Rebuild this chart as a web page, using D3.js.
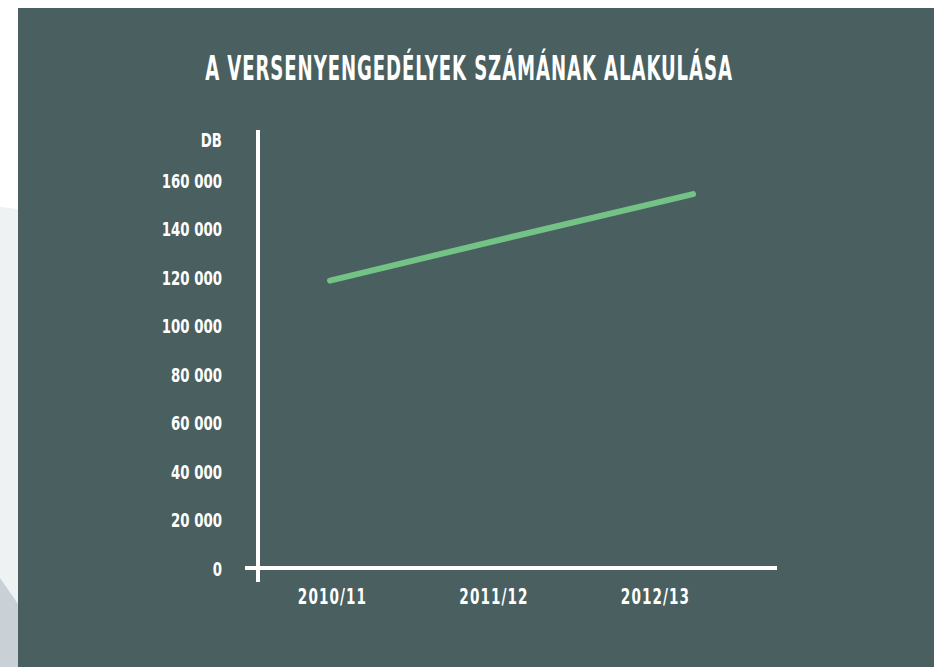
<!DOCTYPE html>
<html>
<head>
<meta charset="utf-8">
<script src="https://cdn.jsdelivr.net/npm/d3@7"></script>
<style>
  html, body { margin: 0; padding: 0; background: #ffffff; }
  svg { display: block; }
  .label { fill: #ffffff; font-family: "DejaVu Sans Condensed", "DejaVu Sans", sans-serif; font-weight: bold; }
</style>
</head>
<body>
<div id="chart"></div>
<script>
// chart data
const title = 'A VERSENYENGEDÉLYEK SZÁMÁNAK ALAKULÁSA';
const unitLabel = 'DB';
const seasons = ['2010/11', '2011/12', '2012/13'];
const licences = [118500, 136500, 154200];
const yTicks = [0, 20000, 40000, 60000, 80000, 100000, 120000, 140000, 160000];

const W = 934, H = 667;
const cfg = {
    'panel': {'x': 18, 'y': 8},
    'bg': '#4a5f5f',
    'lineColor': '#73c386',
    'yRange': [568, 180],
    'xLabelRange': [332, 655],
    'lineRange': [330, 693],
    'axisX': 258,
    'labelX': 222,
    'squeeze': 'scale(0.74,1)'  // fake a condensed face
};

const svg = d3.select('#chart').append('svg')
    .attr('width', W)
    .attr('height', H)
    .attr('viewBox', '0 0 ' + W + ' ' + H);

// decorative strip on the left
svg.append('path')
    .attr('d', 'M0,207 L' + cfg.panel.x + ',209 L' + cfg.panel.x + ',' + H + ' L0,' + H + ' Z')
    .attr('fill', '#eef2f3');
svg.append('path')
    .attr('d', 'M0,578 L' + cfg.panel.x + ',604 L' + cfg.panel.x + ',' + H + ' L0,' + H + ' Z')
    .attr('fill', '#c9d1d6');

svg.append('rect')
    .attr('x', cfg.panel.x)
    .attr('y', cfg.panel.y)
    .attr('width', W - cfg.panel.x)
    .attr('height', H - cfg.panel.y)
    .attr('fill', cfg.bg);

const yScale = d3.scaleLinear().domain([0, 160000]).range(cfg.yRange);
const xScale = d3.scalePoint().domain(seasons).range(cfg.xLabelRange);
const xLine = d3.scaleLinear().domain([0, seasons.length - 1]).range(cfg.lineRange);

const fmt = function(v) { return d3.format(',')(v).replace(/,/g, ' '); };

// TITLE
svg.append('g')
    .attr('transform', 'translate(469,80) scale(0.61,1)')
  .append('text')
    .attr('class', 'label title')
    .attr('text-anchor', 'middle')
    .attr('font-size', 33)
    .attr('letter-spacing', 1.5)
    .text(title);

// Y AXIS labels
const yAxis = svg.append('g')
    .attr('class', 'axis axis--y')
    .attr('transform', 'translate(' + cfg.labelX + ',0)')
    .call(d3.axisLeft(yScale).tickValues(yTicks).tickSize(0).tickPadding(0).tickFormat(fmt));
yAxis.select('.domain').remove();
yAxis.selectAll('text')
    .attr('class', 'label')
    .attr('font-size', 20)
    .attr('dy', '0.36em')
    .attr('transform', cfg.squeeze)
    .attr('fill', null);

svg.append('g')
    .attr('transform', 'translate(' + cfg.labelX + ',140) ' + cfg.squeeze)
  .append('text')
    .attr('class', 'label')
    .attr('dy', '0.36em')
    .attr('text-anchor', 'end')
    .attr('font-size', 20)
    .text(unitLabel);

// X AXIS labels
const xAxis = svg.append('g')
    .attr('class', 'axis axis--x')
    .attr('transform', 'translate(0,' + yScale(0) + ')')
    .call(d3.axisBottom(xScale).tickSize(0).tickPadding(0));
xAxis.select('.domain').remove();
xAxis.selectAll('text')
    .attr('class', 'label')
    .attr('font-size', 21)
    .attr('y', 28)
    .attr('dy', '0.36em')
    .attr('letter-spacing', 1.5)
    .attr('transform', 'scale(0.72,1)')
    .attr('fill', null);

// axis lines
svg.append('line')
    .attr('x1', cfg.axisX).attr('x2', cfg.axisX)
    .attr('y1', yScale(160000) - 50).attr('y2', yScale(0) + 14)
    .attr('stroke', '#ffffff').attr('stroke-width', 4);
svg.append('line')
    .attr('x1', cfg.axisX - 13).attr('x2', 777)
    .attr('y1', yScale(0)).attr('y2', yScale(0))
    .attr('stroke', '#ffffff').attr('stroke-width', 4);

// LINE
const line = d3.line()
    .x(function(d, i) { return xLine(i); })
    .y(function(d) { return yScale(d); });

svg.append('path')
    .datum(licences)
    .attr('class', 'line')
    .attr('d', line)
    .attr('fill', 'none')
    .attr('stroke', cfg.lineColor)
    .attr('stroke-width', 6)
    .attr('stroke-linecap', 'round');
</script>
</body>
</html>
